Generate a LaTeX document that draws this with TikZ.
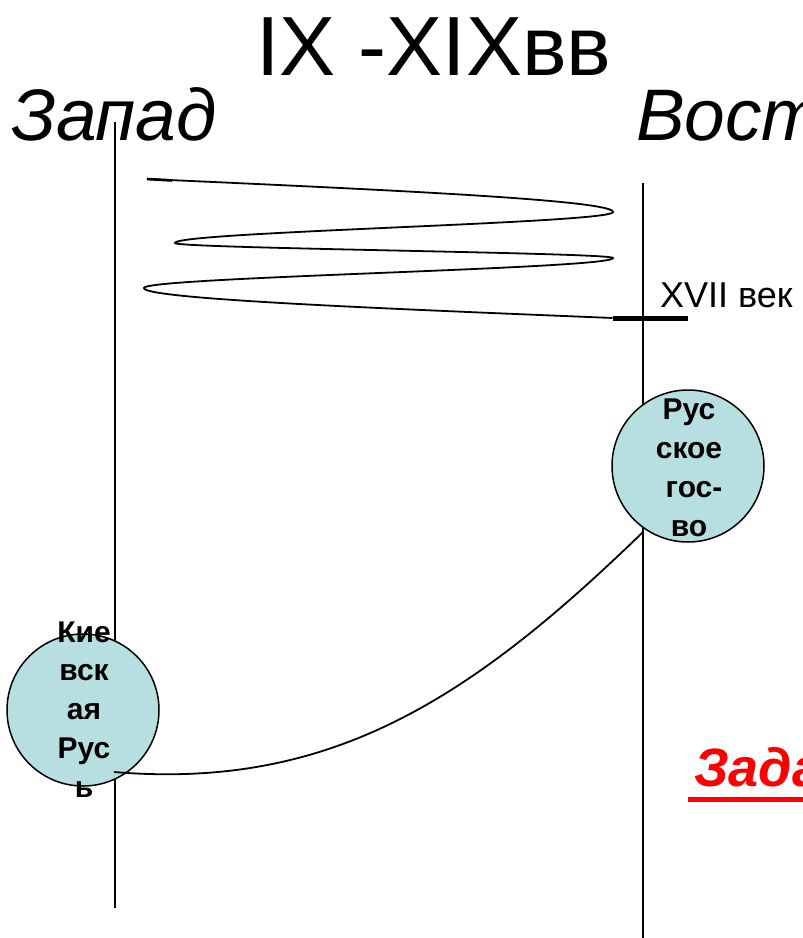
\documentclass[tikz,border=0pt]{standalone}
\usepackage{fontspec}
\setmainfont{Liberation Sans}
\definecolor{circfill}{RGB}{183,222,224}
\definecolor{redtxt}{RGB}{255,0,0}
\begin{document}
\begin{tikzpicture}[x=1pt,y=-1pt,
  thinline/.style={line width=1.6pt},
  axisline/.style={line width=2.2pt},
  curveline/.style={line width=1.8pt},
  statecircle/.style={circle,draw,line width=1.5pt,fill=circfill,minimum size=150pt,inner sep=0pt},
  circtext/.style={align=center,inner sep=0pt,font=\fontsize{30}{38.7}\selectfont\bfseries},
  plain/.style={inner sep=0pt,anchor=base west}]
\useasboundingbox (0,0) rectangle (803,938);
\clip (0,0) rectangle (803,938);
% title and headings
\node[plain,font=\fontsize{84}{90}\selectfont] (title) at (256,75) {IX -XIXвв};
\node[plain,font=\fontsize{73}{80}\selectfont\itshape] (west) at (11,140) {Запад};
\node[plain,font=\fontsize{73}{80}\selectfont\itshape] (east) at (636,140) {Восток};
% axes
\coordinate (wtop) at (115,122);
\coordinate (wbot) at (115,908);
\coordinate (etop) at (643,183);
\coordinate (ebot) at (643,940);
\draw[thinline] (wtop) -- (wbot);
\draw[axisline] (etop) -- (ebot);
% XVII century tick
\coordinate (tickL) at (613,318);
\coordinate (tickR) at (688,318);
\draw[line width=5pt] (tickL) -- (tickR);
\node[plain,font=\fontsize{36}{40}\selectfont] (xvii) at (660,307) {XVII век};
% zigzag
\draw[line width=2.6pt] (147,179) -- (172,180.5);
\draw[curveline]
  plot[domain=0:1,samples=80,variable=\s] ({147+466*sin(90*\s)},{179+33*\s})
  -- plot[domain=0:1,samples=80,variable=\s] ({394+219*cos(180*\s)},{212+31*\s})
  -- plot[domain=0:1,samples=80,variable=\s] ({394-219*cos(180*\s)},{243+15*\s})
  -- plot[domain=0:1,samples=80,variable=\s] ({378.5+234.5*cos(180*\s)},{258+30*\s})
  -- plot[domain=0:1,samples=80,variable=\s] ({613-469*cos(90*\s)},{288+30*\s});
% circles
\node[statecircle,minimum width=152pt,minimum height=146pt] (rus) at (688,466) {};
\node[circtext,anchor=base] (rustxt) at (689,536) {Рус\\ское\\\hspace*{10pt}гос-\\во};
\node[statecircle,minimum width=152pt,minimum height=146pt] (kiev) at (83,710) {};
\node[circtext,anchor=base] (kievtxt) at (84,797) {Кие\\вск\\ая\\Рус\\ь};
% connector
\coordinate (kievEnd) at (114,772);
\coordinate (rusEnd) at (643,532);
\draw[curveline] (kievEnd) .. controls (330,790) and (470,700) .. (rusEnd);
% red label
\node[plain,font=\fontsize{54}{60}\selectfont\bfseries\itshape,text=redtxt] (task) at (694,786) {Задание};
\coordinate (ulL) at (688,799);
\coordinate (ulR) at (1000,799);
\draw[redtxt,line width=5pt] (ulL) -- (ulR);
\end{tikzpicture}
\end{document}
